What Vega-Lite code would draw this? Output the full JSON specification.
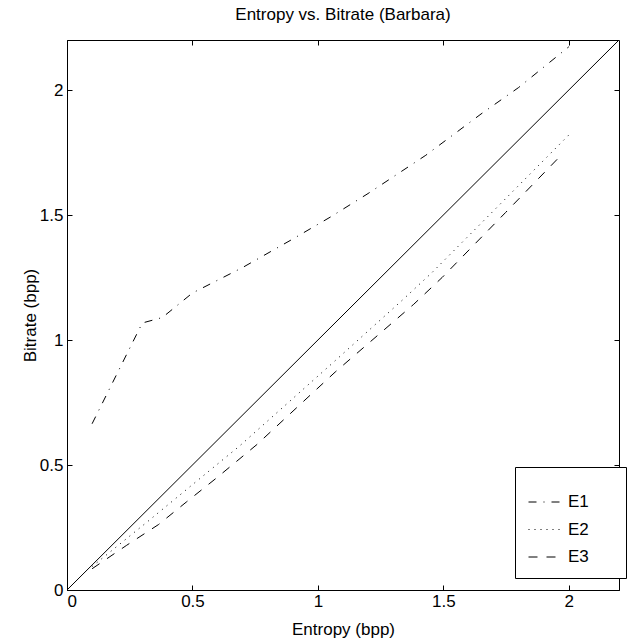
{
  "$schema": "https://vega.github.io/schema/vega-lite/v6.json",
  "width": 552,
  "height": 550,
  "autosize": {"type": "none"},
  "padding": {"left": 67, "top": 40, "right": 9, "bottom": 53},
  "background": "white",
  "title": {"text": "Entropy vs. Bitrate (Barbara)", "fontSize": 17, "font": "Liberation Sans", "fontWeight": "normal", "color": "black", "offset": 14},
  "config": {
    "font": "Liberation Sans",
    "view": {"stroke": "black", "strokeWidth": 1},
    "axis": {
      "grid": false,
      "domainColor": "black",
      "domainWidth": 1,
      "tickColor": "black",
      "tickWidth": 1,
      "tickSize": -5,
      "labelColor": "black",
      "titleColor": "black",
      "labelFontSize": 17,
      "titleFontSize": 17,
      "titleFontWeight": "normal",
      "labelFont": "Liberation Sans",
      "titleFont": "Liberation Sans"
    }
  },
  "datasets": {
    "curves": [
      {"series": "E1", "entropy": 0.1, "bitrate": 0.665},
      {"series": "E1", "entropy": 0.3, "bitrate": 1.068},
      {"series": "E1", "entropy": 0.38, "bitrate": 1.09},
      {"series": "E1", "entropy": 0.5, "bitrate": 1.188},
      {"series": "E1", "entropy": 0.7, "bitrate": 1.29},
      {"series": "E1", "entropy": 0.9, "bitrate": 1.404},
      {"series": "E1", "entropy": 1.05, "bitrate": 1.492},
      {"series": "E1", "entropy": 1.2, "bitrate": 1.586},
      {"series": "E1", "entropy": 1.43, "bitrate": 1.739},
      {"series": "E1", "entropy": 1.65, "bitrate": 1.904},
      {"series": "E1", "entropy": 1.8, "bitrate": 2.01},
      {"series": "E1", "entropy": 2.0, "bitrate": 2.173},
      {"series": "E2", "entropy": 0.1, "bitrate": 0.094},
      {"series": "E2", "entropy": 0.318, "bitrate": 0.271},
      {"series": "E2", "entropy": 0.491, "bitrate": 0.414},
      {"series": "E2", "entropy": 0.69, "bitrate": 0.578},
      {"series": "E2", "entropy": 1.063, "bitrate": 0.912},
      {"series": "E2", "entropy": 1.336, "bitrate": 1.159},
      {"series": "E2", "entropy": 1.455, "bitrate": 1.27},
      {"series": "E2", "entropy": 1.715, "bitrate": 1.532},
      {"series": "E2", "entropy": 2.0, "bitrate": 1.82},
      {"series": "E3", "entropy": 0.1, "bitrate": 0.085},
      {"series": "E3", "entropy": 0.238, "bitrate": 0.179},
      {"series": "E3", "entropy": 0.365, "bitrate": 0.262},
      {"series": "E3", "entropy": 0.477, "bitrate": 0.353},
      {"series": "E3", "entropy": 0.597, "bitrate": 0.449},
      {"series": "E3", "entropy": 0.757, "bitrate": 0.582},
      {"series": "E3", "entropy": 1.069, "bitrate": 0.872},
      {"series": "E3", "entropy": 1.382, "bitrate": 1.143},
      {"series": "E3", "entropy": 1.495, "bitrate": 1.25},
      {"series": "E3", "entropy": 1.748, "bitrate": 1.51},
      {"series": "E3", "entropy": 1.975, "bitrate": 1.745}
    ],
    "diag": [
      {"entropy": 0, "bitrate": 0},
      {"entropy": 2.2, "bitrate": 2.2}
    ]
  },
  "layer": [
    {
      "data": {"name": "curves"},
      "mark": {"type": "line", "color": "black", "strokeWidth": 1},
      "encoding": {
        "x": {"field": "entropy", "type": "quantitative", "scale": {"domain": [0, 2.2], "nice": false, "zero": false},
              "axis": {"title": "Entropy (bpp)", "values": [0, 0.5, 1, 1.5, 2], "format": "~g", "labelPadding": 8, "titlePadding": 12, "orient": "bottom"}},
        "y": {"field": "bitrate", "type": "quantitative", "scale": {"domain": [0, 2.2], "nice": false, "zero": false},
              "axis": {"title": "Bitrate (bpp)", "values": [0, 0.5, 1, 1.5, 2], "format": "~g", "labelPadding": 9, "titlePadding": 0, "orient": "left"}},
        "strokeDash": {
          "field": "series", "type": "nominal",
          "scale": {"domain": ["E1", "E2", "E3"], "range": [[8, 7, 1, 7], [1, 5], [9, 9]]},
          "legend": {
            "orient": "none", "legendX": 448, "legendY": 427,
            "title": " ", "titleFontSize": 4, "titlePadding": 1.5,
            "symbolType": "stroke", "symbolSize": 1024, "symbolStrokeWidth": 1, "symbolStrokeColor": "black",
            "labelFontSize": 17, "labelColor": "black", "labelOffset": 7,
            "labelExpr": "datum.label + '\u2800\u2800'",
            "strokeColor": "black", "fillColor": "white", "padding": 13, "rowPadding": 2.5
          }
        }
      }
    },
    {
      "data": {"name": "diag"},
      "mark": {"type": "line", "color": "black", "strokeWidth": 1},
      "encoding": {
        "x": {"field": "entropy", "type": "quantitative", "scale": {"domain": [0, 2.2], "nice": false, "zero": false},
              "axis": {"orient": "top", "labels": false, "title": null, "domain": false, "values": [0, 0.5, 1, 1.5, 2]}},
        "y": {"field": "bitrate", "type": "quantitative", "scale": {"domain": [0, 2.2], "nice": false, "zero": false},
              "axis": {"orient": "right", "labels": false, "title": null, "domain": false, "values": [0, 0.5, 1, 1.5, 2]}}
      }
    }
  ],
  "resolve": {"axis": {"x": "independent", "y": "independent"}}
}
